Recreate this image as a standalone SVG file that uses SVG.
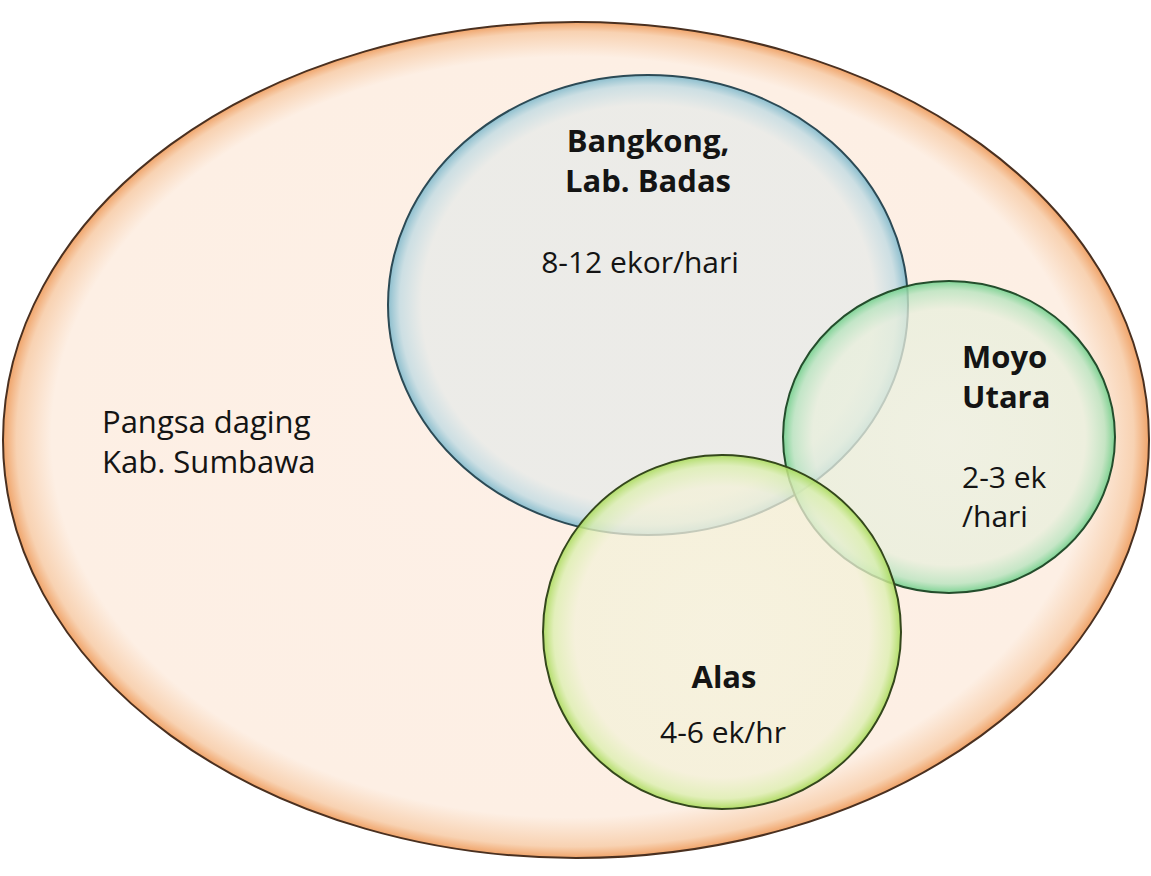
<svg xmlns="http://www.w3.org/2000/svg" width="1151" height="876" viewBox="0 0 1151 876">
<defs>
<radialGradient id="gOuter" cx="0.5" cy="0.5" r="0.5" fx="0.47" fy="0.46">
<stop offset="0" stop-color="#fdf0e7"/>
<stop offset="0.91" stop-color="#fdefe4"/>
<stop offset="0.975" stop-color="#f8d2b2"/>
<stop offset="1" stop-color="#f0a46a"/>
</radialGradient>
<radialGradient id="gBlue" cx="0.5" cy="0.5" r="0.5">
<stop offset="0" stop-color="#ebebe8" stop-opacity="0.95"/>
<stop offset="0.87" stop-color="#eaebe8" stop-opacity="0.9"/>
<stop offset="0.955" stop-color="#c7dde3" stop-opacity="0.9"/>
<stop offset="1" stop-color="#86bccd" stop-opacity="0.95"/>
</radialGradient>
<radialGradient id="gGreen" cx="0.5" cy="0.5" r="0.5">
<stop offset="0" stop-color="#edf1e2" stop-opacity="0.8"/>
<stop offset="0.82" stop-color="#e8efdc" stop-opacity="0.75"/>
<stop offset="0.94" stop-color="#b8e4bf" stop-opacity="0.8"/>
<stop offset="1" stop-color="#6fcf8a" stop-opacity="0.9"/>
</radialGradient>
<radialGradient id="gLime" cx="0.5" cy="0.5" r="0.5">
<stop offset="0" stop-color="#f5f2dd" stop-opacity="0.8"/>
<stop offset="0.82" stop-color="#f3f1d8" stop-opacity="0.75"/>
<stop offset="0.94" stop-color="#dcefb0" stop-opacity="0.8"/>
<stop offset="1" stop-color="#a9db5a" stop-opacity="0.9"/>
</radialGradient>
</defs>
<style>
.lbl{font-family:"Open Sans","Noto Sans","Liberation Sans",sans-serif;fill:#141414}
.b{font-weight:bold;font-size:31px}
.r{font-size:30px}
.big{font-size:31px}
</style>
<rect width="1151" height="876" fill="#ffffff"/>
<g id="outer">
<ellipse cx="576" cy="440" rx="573" ry="418" fill="url(#gOuter)" stroke="#4a3020" stroke-width="2"/>
<text class="lbl big" x="102" y="433">Pangsa daging</text>
<text class="lbl big" x="102" y="473">Kab. Sumbawa</text>
</g>
<g id="bangkong">
<ellipse cx="648" cy="305" rx="260" ry="230" fill="url(#gBlue)" stroke="#2c4a55" stroke-width="2"/>
<text class="lbl b" x="648" y="152" text-anchor="middle">Bangkong,</text>
<text class="lbl b" x="648" y="192" text-anchor="middle">Lab. Badas</text>
<text class="lbl r" x="640" y="273" text-anchor="middle">8-12 ekor/hari</text>
</g>
<g id="moyo">
<ellipse cx="949" cy="437" rx="166" ry="156" fill="url(#gGreen)" stroke="#244d2c" stroke-width="2"/>
<text class="lbl b" x="962" y="368">Moyo</text>
<text class="lbl b" x="962" y="408">Utara</text>
<text class="lbl r" x="962" y="488">2-3 ek</text>
<text class="lbl r" x="962" y="527">/hari</text>
</g>
<g id="alas">
<ellipse cx="722" cy="632" rx="179" ry="177" fill="url(#gLime)" stroke="#34471c" stroke-width="2"/>
<text class="lbl b" x="724" y="688" text-anchor="middle">Alas</text>
<text class="lbl r" x="723" y="743" text-anchor="middle">4-6 ek/hr</text>
</g>
<g id="connectors"/>
</svg>
